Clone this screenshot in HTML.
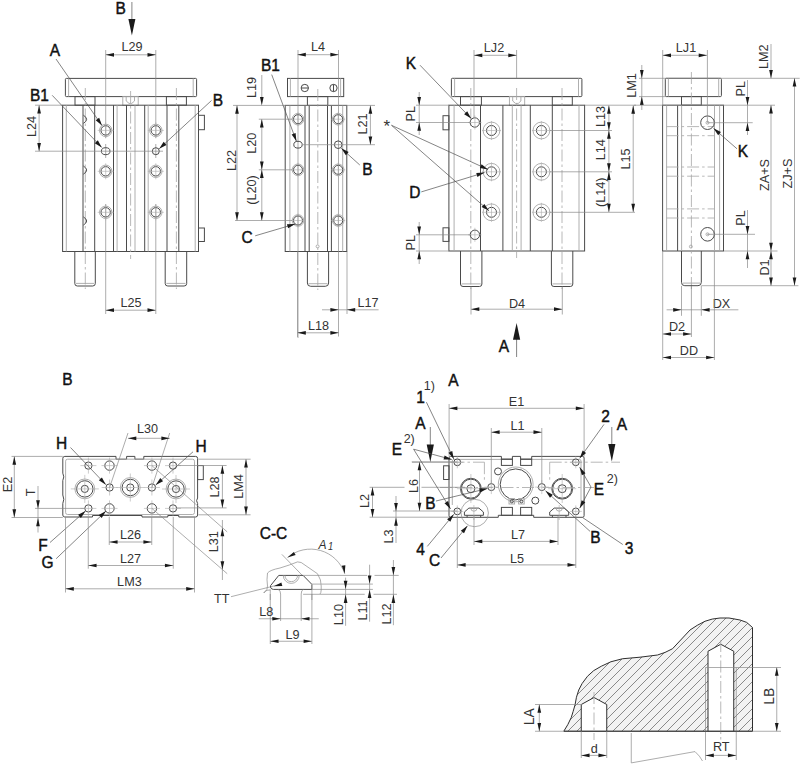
<!DOCTYPE html>
<html><head><meta charset="utf-8"><style>
html,body{margin:0;padding:0;background:#fff;width:800px;height:766px;overflow:hidden}
svg{display:block}
text{font-family:"Liberation Sans",sans-serif;fill:#222}
.lt{fill:#333}
.lb{fill:#111;stroke:#111;stroke-width:0.45}
.d{stroke:#4a4a4a;stroke-width:1;fill:none}
.g{stroke:#a6a6a6;stroke-width:0.9;fill:none}
.t{stroke:#8a8a8a;stroke-width:0.7;fill:none}
.x{stroke:#aaaaaa;stroke-width:0.6;fill:none}
.h{stroke:#a6a6a6;stroke-width:0.8;fill:none;stroke-dasharray:12 3 2.5 3}
.ld{stroke:#505050;stroke-width:0.7;fill:none}
.a{fill:#1a1a1a;stroke:none}
.dh{stroke:#2e2e2e;stroke-width:1;fill:url(#hp)}
.dw{stroke:#2e2e2e;stroke-width:1;fill:#fff}
</style></head><body>
<svg width="800" height="766" viewBox="0 0 800 766">
<defs><pattern id="hp" patternUnits="userSpaceOnUse" width="9" height="9" x="2" y="1"><rect width="9" height="9" fill="#f3f3f3"/><path d="M-1,1 L1,-1 M0,9 L9,0 M8,10 L10,8" stroke="#777" stroke-width="0.85"/></pattern></defs>
<line class="g" x1="76" y1="283.4" x2="94.1" y2="283.4"/>
<line class="g" x1="166.4" y1="283.4" x2="185.5" y2="283.4"/>
<line class="g" x1="308.6" y1="283.7" x2="327.4" y2="283.7"/>
<line class="g" x1="461.7" y1="283.9" x2="480.7" y2="283.9"/>
<line class="g" x1="552.6" y1="283.9" x2="571.6" y2="283.9"/>
<line class="g" x1="682.7" y1="283.1" x2="700.1" y2="283.1"/>
<rect class="d" x="65.4" y="78.4" width="131.2" height="18.2" rx="1"/>
<line class="g" x1="68.6" y1="78.4" x2="68.6" y2="96.6"/>
<line class="g" x1="193.2" y1="78.4" x2="193.2" y2="96.6"/>
<rect class="d" x="75" y="96.6" width="20" height="8.6"/>
<rect class="d" x="166.4" y="96.6" width="20" height="8.6"/>
<rect class="g" x="122.8" y="96.4" width="15.4" height="8.9"/>
<path class="g" d="M126.2,96.8 L126.2,101 L129,103.4 L131.8,103.4 L134.5,101 L134.5,96.8"/>
<rect class="d" x="62.6" y="105.2" width="135.9" height="146.3"/>
<line class="d" x1="83" y1="105.2" x2="83" y2="251.5"/>
<line class="d" x1="94.7" y1="105.2" x2="94.7" y2="251.5"/>
<line class="d" x1="113.5" y1="105.2" x2="113.5" y2="251.5"/>
<line class="d" x1="126.5" y1="105.2" x2="126.5" y2="251.5"/>
<line class="d" x1="144.7" y1="105.2" x2="144.7" y2="251.5"/>
<line class="d" x1="167" y1="105.2" x2="167" y2="251.5"/>
<line class="d" x1="178.8" y1="105.2" x2="178.8" y2="251.5"/>
<line class="g" x1="66.3" y1="105.2" x2="66.3" y2="251.5"/>
<line class="g" x1="117.1" y1="105.2" x2="117.1" y2="251.5"/>
<line class="g" x1="135" y1="105.2" x2="135" y2="251.5"/>
<line class="g" x1="148.2" y1="105.2" x2="148.2" y2="251.5"/>
<line class="g" x1="195.2" y1="105.2" x2="195.2" y2="251.5"/>
<line class="h" x1="130.6" y1="91" x2="130.6" y2="259"/>
<line class="h" x1="85.3" y1="88" x2="85.3" y2="289"/>
<line class="h" x1="176.4" y1="88" x2="176.4" y2="289"/>
<rect class="d" x="198.5" y="115.3" width="5.9" height="14.4"/>
<rect class="d" x="198.5" y="228" width="5.9" height="13.5"/>
<path class="d" d="M83.4,115.2 Q89.9,119.3 83.4,123.4"/>
<path class="d" d="M83.4,166 Q89.9,170.1 83.4,174.2"/>
<path class="d" d="M83.4,216.9 Q89.9,221 83.4,225.1"/>
<path class="d" d="M74.8,251.5 L74.8,283.5 Q74.8,286 77.3,286 L92.7,286 Q95.3,286 95.3,283.5 L95.3,251.5"/>
<path class="d" d="M165.2,251.5 L165.2,283.5 Q165.2,286 167.8,286 L184.1,286 Q186.7,286 186.7,283.5 L186.7,251.5"/>
<line class="t" x1="105.7" y1="50" x2="105.7" y2="138"/>
<line class="t" x1="105.7" y1="144" x2="105.7" y2="158"/>
<line class="t" x1="105.7" y1="204" x2="105.7" y2="314"/>
<line class="t" x1="155.8" y1="50" x2="155.8" y2="138"/>
<line class="t" x1="155.8" y1="144" x2="155.8" y2="158"/>
<line class="t" x1="155.8" y1="204" x2="155.8" y2="314"/>
<circle class="g" cx="105.7" cy="130.4" r="6.2"/>
<circle class="d" cx="105.7" cy="130.4" r="4.7"/>
<line class="x" x1="97.7" y1="130.4" x2="113.7" y2="130.4"/>
<line class="x" x1="105.7" y1="122.4" x2="105.7" y2="138.4"/>
<circle class="g" cx="105.7" cy="171.3" r="6.2"/>
<circle class="d" cx="105.7" cy="171.3" r="4.7"/>
<line class="x" x1="97.7" y1="171.3" x2="113.7" y2="171.3"/>
<line class="x" x1="105.7" y1="163.3" x2="105.7" y2="179.3"/>
<circle class="g" cx="105.7" cy="212.3" r="6.2"/>
<circle class="d" cx="105.7" cy="212.3" r="4.7"/>
<line class="x" x1="97.7" y1="212.3" x2="113.7" y2="212.3"/>
<line class="x" x1="105.7" y1="204.3" x2="105.7" y2="220.3"/>
<circle class="g" cx="155.8" cy="130.4" r="6.2"/>
<circle class="d" cx="155.8" cy="130.4" r="4.7"/>
<line class="x" x1="147.8" y1="130.4" x2="163.8" y2="130.4"/>
<line class="x" x1="155.8" y1="122.4" x2="155.8" y2="138.4"/>
<circle class="g" cx="155.8" cy="171.3" r="6.2"/>
<circle class="d" cx="155.8" cy="171.3" r="4.7"/>
<line class="x" x1="147.8" y1="171.3" x2="163.8" y2="171.3"/>
<line class="x" x1="155.8" y1="163.3" x2="155.8" y2="179.3"/>
<circle class="g" cx="155.8" cy="212.3" r="6.2"/>
<circle class="d" cx="155.8" cy="212.3" r="4.7"/>
<line class="x" x1="147.8" y1="212.3" x2="163.8" y2="212.3"/>
<line class="x" x1="155.8" y1="204.3" x2="155.8" y2="220.3"/>
<ellipse class="d" cx="105.7" cy="151.2" rx="4.3" ry="3.5"/>
<circle class="d" cx="155.8" cy="151.2" r="3.5"/>
<line class="t" x1="105.7" y1="54.8" x2="155.8" y2="54.8"/>
<polygon class="a" points="105.7,54.8 114,52.95 114,56.65"/>
<polygon class="a" points="155.8,54.8 147.5,56.65 147.5,52.95"/>
<text class="lt" transform="translate(132 51) scale(0.93 1)" text-anchor="middle" style="font-size:13.6px;">L29</text>
<line class="t" x1="105.7" y1="310.2" x2="155.8" y2="310.2"/>
<polygon class="a" points="105.7,310.2 114,308.35 114,312.05"/>
<polygon class="a" points="155.8,310.2 147.5,312.05 147.5,308.35"/>
<text class="lt" transform="translate(131 307) scale(0.93 1)" text-anchor="middle" style="font-size:13.6px;">L25</text>
<line class="t" x1="35" y1="105.2" x2="62.6" y2="105.2"/>
<line class="t" x1="35" y1="151.2" x2="163" y2="151.2"/>
<line class="t" x1="39.1" y1="105.2" x2="39.1" y2="151.2"/>
<polygon class="a" points="39.1,105.2 40.95,113.5 37.25,113.5"/>
<polygon class="a" points="39.1,151.2 37.25,142.9 40.95,142.9"/>
<text class="lt" transform="translate(35.5 126.5) rotate(-90) scale(0.93 1)" text-anchor="middle" style="font-size:13.6px;">L24</text>
<line class="ld" x1="131.9" y1="2" x2="131.9" y2="20"/>
<polygon class="a" points="131.9,35.5 128.4,18.9 135.4,18.9"/>
<text class="lb" transform="translate(120.7 13.9) scale(0.9 1)" text-anchor="middle" style="font-size:17.2px;">B</text>
<text class="lb" transform="translate(55 56) scale(0.9 1)" text-anchor="middle" style="font-size:17.2px;">A</text>
<line class="ld" x1="56" y1="59" x2="102" y2="125.6"/>
<polygon class="a" points="102,125.6 95.73,120.21 99.18,117.82"/>
<text class="lb" transform="translate(39.5 100.5) scale(0.9 1)" text-anchor="middle" style="font-size:17.2px;">B1</text>
<line class="ld" x1="52.2" y1="95.3" x2="101.8" y2="147.5"/>
<polygon class="a" points="101.8,147.5 94.77,143.15 97.81,140.25"/>
<text class="lb" transform="translate(218 105.7) scale(0.9 1)" text-anchor="middle" style="font-size:17.2px;">B</text>
<line class="ld" x1="211.5" y1="100.5" x2="159.2" y2="148.8"/>
<polygon class="a" points="159.2,148.8 163.65,141.83 166.5,144.92"/>
<rect class="d" x="287.5" y="78.4" width="56.2" height="18.2"/>
<line class="g" x1="290.4" y1="78.4" x2="290.4" y2="96.6"/>
<line class="g" x1="340.6" y1="78.4" x2="340.6" y2="96.6"/>
<circle class="d" cx="304.8" cy="88" r="3.65"/>
<line class="d" x1="301.2" y1="88" x2="308.4" y2="88"/>
<circle class="d" cx="333.5" cy="88" r="3.65"/>
<line class="d" x1="333.5" y1="84.4" x2="333.5" y2="91.6"/>
<rect class="d" x="307.4" y="96.6" width="20.4" height="8.8"/>
<rect class="d" x="285.2" y="105.4" width="61.6" height="146.1"/>
<line class="d" x1="305" y1="105.4" x2="305" y2="251.5"/>
<line class="d" x1="309.2" y1="105.4" x2="309.2" y2="251.5"/>
<line class="d" x1="327.5" y1="105.4" x2="327.5" y2="251.5"/>
<line class="d" x1="331.4" y1="105.4" x2="331.4" y2="251.5"/>
<line class="g" x1="289.9" y1="105.4" x2="289.9" y2="251.5"/>
<line class="g" x1="342.7" y1="105.4" x2="342.7" y2="251.5"/>
<line class="h" x1="317.8" y1="89" x2="317.8" y2="290"/>
<path class="d" d="M307.4,251.5 L307.4,283 Q307.4,286.3 310.7,286.3 L325.3,286.3 Q328.6,286.3 328.6,283 L328.6,251.5"/>
<circle class="g" cx="317.6" cy="246.4" r="1.5"/>
<line class="t" x1="298" y1="50" x2="298" y2="338"/>
<line class="t" x1="338.5" y1="50" x2="338.5" y2="336.5"/>
<line class="t" x1="347" y1="251.5" x2="347" y2="314"/>
<circle class="g" cx="298" cy="119.2" r="5.8"/>
<circle class="d" cx="298" cy="119.2" r="4.5"/>
<line class="x" x1="291" y1="119.2" x2="305" y2="119.2"/>
<line class="x" x1="298" y1="112.2" x2="298" y2="126.2"/>
<circle class="g" cx="298" cy="169.8" r="5.8"/>
<circle class="d" cx="298" cy="169.8" r="4.5"/>
<line class="x" x1="291" y1="169.8" x2="305" y2="169.8"/>
<line class="x" x1="298" y1="162.8" x2="298" y2="176.8"/>
<circle class="g" cx="298" cy="220.5" r="5.8"/>
<circle class="d" cx="298" cy="220.5" r="4.5"/>
<line class="x" x1="291" y1="220.5" x2="305" y2="220.5"/>
<line class="x" x1="298" y1="213.5" x2="298" y2="227.5"/>
<circle class="g" cx="338.2" cy="119.2" r="5.8"/>
<circle class="d" cx="338.2" cy="119.2" r="4.5"/>
<line class="x" x1="331.2" y1="119.2" x2="345.2" y2="119.2"/>
<line class="x" x1="338.2" y1="112.2" x2="338.2" y2="126.2"/>
<circle class="g" cx="338.2" cy="169.8" r="5.8"/>
<circle class="d" cx="338.2" cy="169.8" r="4.5"/>
<line class="x" x1="331.2" y1="169.8" x2="345.2" y2="169.8"/>
<line class="x" x1="338.2" y1="162.8" x2="338.2" y2="176.8"/>
<circle class="g" cx="338.2" cy="220.5" r="5.8"/>
<circle class="d" cx="338.2" cy="220.5" r="4.5"/>
<line class="x" x1="331.2" y1="220.5" x2="345.2" y2="220.5"/>
<line class="x" x1="338.2" y1="213.5" x2="338.2" y2="227.5"/>
<ellipse class="d" cx="298" cy="144.7" rx="4.2" ry="3.4"/>
<circle class="d" cx="338.2" cy="144.7" r="3.8"/>
<line class="t" x1="233" y1="105.4" x2="375" y2="105.4"/>
<line class="t" x1="258.8" y1="119.2" x2="292" y2="119.2"/>
<line class="t" x1="258.8" y1="169.8" x2="292" y2="169.8"/>
<line class="t" x1="235" y1="220.5" x2="292" y2="220.5"/>
<line class="t" x1="303" y1="144.7" x2="375" y2="144.7"/>
<line class="t" x1="297.5" y1="54.7" x2="338.7" y2="54.7"/>
<polygon class="a" points="297.5,54.7 305.8,52.85 305.8,56.55"/>
<polygon class="a" points="338.7,54.7 330.4,56.55 330.4,52.85"/>
<text class="lt" transform="translate(318 51) scale(0.93 1)" text-anchor="middle" style="font-size:13.6px;">L4</text>
<text class="lt" transform="translate(256.3 87.4) rotate(-90) scale(0.93 1)" text-anchor="middle" style="font-size:13.6px;">L19</text>
<line class="t" x1="261.8" y1="75" x2="261.8" y2="98"/>
<polygon class="a" points="261.8,105.4 259.95,97.1 263.65,97.1"/>
<line class="t" x1="261.8" y1="119.2" x2="261.8" y2="169.8"/>
<polygon class="a" points="261.8,119.2 263.65,127.5 259.95,127.5"/>
<polygon class="a" points="261.8,169.8 259.95,161.5 263.65,161.5"/>
<text class="lt" transform="translate(256.3 143.3) rotate(-90) scale(0.93 1)" text-anchor="middle" style="font-size:13.6px;">L20</text>
<line class="t" x1="261.8" y1="169.8" x2="261.8" y2="220.5"/>
<polygon class="a" points="261.8,169.8 263.65,178.1 259.95,178.1"/>
<polygon class="a" points="261.8,220.5 259.95,212.2 263.65,212.2"/>
<text class="lt" transform="translate(256.3 190) rotate(-90) scale(0.93 1)" text-anchor="middle" style="font-size:13.6px;">(L20)</text>
<line class="t" x1="237" y1="105.4" x2="237" y2="220.5"/>
<polygon class="a" points="237,105.4 238.85,113.7 235.15,113.7"/>
<polygon class="a" points="237,220.5 235.15,212.2 238.85,212.2"/>
<text class="lt" transform="translate(235.6 160.5) rotate(-90) scale(0.93 1)" text-anchor="middle" style="font-size:13.6px;">L22</text>
<line class="t" x1="370.4" y1="105.4" x2="370.4" y2="144.7"/>
<polygon class="a" points="370.4,105.4 372.25,113.7 368.55,113.7"/>
<polygon class="a" points="370.4,144.7 368.55,136.4 372.25,136.4"/>
<text class="lt" transform="translate(366.5 124) rotate(-90) scale(0.93 1)" text-anchor="middle" style="font-size:13.6px;">L21</text>
<text class="lb" transform="translate(270.5 71) scale(0.9 1)" text-anchor="middle" style="font-size:17.2px;">B1</text>
<line class="ld" x1="271.7" y1="74.6" x2="296.4" y2="141.2"/>
<polygon class="a" points="296.4,141.2 291.65,134.43 295.59,132.97"/>
<text class="lb" transform="translate(367.3 174.5) scale(0.9 1)" text-anchor="middle" style="font-size:17.2px;">B</text>
<line class="ld" x1="359.8" y1="165" x2="341.3" y2="148.3"/>
<polygon class="a" points="341.3,148.3 348.65,152.1 345.83,155.22"/>
<text class="lb" transform="translate(247 243) scale(0.9 1)" text-anchor="middle" style="font-size:17.2px;">C</text>
<line class="ld" x1="255.2" y1="235.8" x2="295.2" y2="224"/>
<polygon class="a" points="295.2,224 288.12,228.28 286.93,224.25"/>
<line class="t" x1="322" y1="309.8" x2="378.6" y2="309.8"/>
<polygon class="a" points="338.7,309.8 330.4,311.65 330.4,307.95"/>
<polygon class="a" points="346.9,309.8 355.2,307.95 355.2,311.65"/>
<text class="lt" transform="translate(368 306.5) scale(0.93 1)" text-anchor="middle" style="font-size:13.6px;">L17</text>
<line class="t" x1="297.5" y1="332.8" x2="338.7" y2="332.8"/>
<polygon class="a" points="297.5,332.8 305.8,330.95 305.8,334.65"/>
<polygon class="a" points="338.7,332.8 330.4,334.65 330.4,330.95"/>
<text class="lt" transform="translate(318.5 330) scale(0.93 1)" text-anchor="middle" style="font-size:13.6px;">L18</text>
<line class="t" x1="297.5" y1="251.5" x2="297.5" y2="337"/>
<rect class="d" x="451.4" y="78.3" width="130.5" height="18.3" rx="1"/>
<line class="g" x1="454.6" y1="78.3" x2="454.6" y2="96.6"/>
<line class="g" x1="578.5" y1="78.3" x2="578.5" y2="96.6"/>
<rect class="d" x="460.5" y="96.6" width="20.9" height="8.6"/>
<rect class="d" x="552.3" y="96.6" width="20" height="8.6"/>
<rect class="g" x="509.4" y="96.4" width="15.3" height="8.9"/>
<path class="g" d="M512.7,96.8 L512.7,101 L515.5,103.4 L518.3,103.4 L520.9,101 L520.9,96.8"/>
<rect class="d" x="448.9" y="105.2" width="135.7" height="145.8"/>
<line class="d" x1="480.5" y1="105.2" x2="480.5" y2="251"/>
<line class="d" x1="502.9" y1="105.2" x2="502.9" y2="251"/>
<line class="d" x1="530.3" y1="105.2" x2="530.3" y2="251"/>
<line class="d" x1="552.3" y1="105.2" x2="552.3" y2="251"/>
<line class="g" x1="454.1" y1="105.2" x2="454.1" y2="251"/>
<line class="g" x1="512.3" y1="105.2" x2="512.3" y2="251"/>
<line class="g" x1="521.1" y1="105.2" x2="521.1" y2="251"/>
<line class="g" x1="579" y1="105.2" x2="579" y2="251"/>
<line class="h" x1="516.6" y1="88" x2="516.6" y2="258"/>
<line class="h" x1="470.8" y1="88" x2="470.8" y2="289"/>
<line class="h" x1="562" y1="88" x2="562" y2="289"/>
<rect class="d" x="443" y="115.7" width="5.9" height="14.1"/>
<rect class="d" x="443" y="227.8" width="5.9" height="13.6"/>
<path class="d" d="M460.5,251 L460.5,284 Q460.5,286.5 463,286.5 L479.4,286.5 Q481.9,286.5 481.9,284 L481.9,251"/>
<path class="d" d="M551.4,251 L551.4,284 Q551.4,286.5 553.9,286.5 L570.3,286.5 Q572.8,286.5 572.8,284 L572.8,251"/>
<circle class="d" cx="474.8" cy="122.5" r="4.7"/>
<circle class="d" cx="474.9" cy="234.8" r="4.7"/>
<line class="x" x1="468" y1="122.5" x2="481.5" y2="122.5"/>
<line class="x" x1="474.9" y1="115.5" x2="474.9" y2="129.5"/>
<line class="x" x1="468" y1="234.8" x2="481.5" y2="234.8"/>
<line class="x" x1="474.9" y1="227.8" x2="474.9" y2="241.8"/>
<line class="t" x1="474" y1="50" x2="474" y2="118"/>
<line class="t" x1="516.6" y1="50" x2="516.6" y2="78"/>
<circle class="g" cx="491.5" cy="130.5" r="8.4"/>
<circle class="d" cx="491.5" cy="130.5" r="5"/>
<line class="x" x1="482" y1="130.5" x2="501" y2="130.5"/>
<line class="x" x1="491.5" y1="121" x2="491.5" y2="140"/>
<circle class="g" cx="491.5" cy="171.8" r="8.4"/>
<circle class="d" cx="491.5" cy="171.8" r="5"/>
<line class="x" x1="482" y1="171.8" x2="501" y2="171.8"/>
<line class="x" x1="491.5" y1="162.3" x2="491.5" y2="181.3"/>
<circle class="g" cx="491.5" cy="212.3" r="8.4"/>
<circle class="d" cx="491.5" cy="212.3" r="5"/>
<line class="x" x1="482" y1="212.3" x2="501" y2="212.3"/>
<line class="x" x1="491.5" y1="202.8" x2="491.5" y2="221.8"/>
<circle class="g" cx="541.4" cy="130.5" r="8.4"/>
<circle class="d" cx="541.4" cy="130.5" r="5"/>
<line class="x" x1="531.9" y1="130.5" x2="550.9" y2="130.5"/>
<line class="x" x1="541.4" y1="121" x2="541.4" y2="140"/>
<circle class="g" cx="541.4" cy="171.8" r="8.4"/>
<circle class="d" cx="541.4" cy="171.8" r="5"/>
<line class="x" x1="531.9" y1="171.8" x2="550.9" y2="171.8"/>
<line class="x" x1="541.4" y1="162.3" x2="541.4" y2="181.3"/>
<circle class="g" cx="541.4" cy="212.3" r="8.4"/>
<circle class="d" cx="541.4" cy="212.3" r="5"/>
<line class="x" x1="531.9" y1="212.3" x2="550.9" y2="212.3"/>
<line class="x" x1="541.4" y1="202.8" x2="541.4" y2="221.8"/>
<line class="t" x1="550" y1="130.5" x2="612" y2="130.5"/>
<line class="t" x1="550" y1="171.8" x2="612" y2="171.8"/>
<line class="t" x1="550" y1="212.3" x2="635" y2="212.3"/>
<line class="t" x1="584.6" y1="105.2" x2="636" y2="105.2"/>
<line class="t" x1="416" y1="105.2" x2="448.9" y2="105.2"/>
<line class="t" x1="416" y1="122.5" x2="470" y2="122.5"/>
<line class="t" x1="419.2" y1="92" x2="419.2" y2="135"/>
<polygon class="a" points="419.2,105.2 417.35,96.9 421.05,96.9"/>
<polygon class="a" points="419.2,122.5 421.05,130.8 417.35,130.8"/>
<text class="lt" transform="translate(414.8 113.8) rotate(-90) scale(0.93 1)" text-anchor="middle" style="font-size:13.6px;">PL</text>
<line class="t" x1="416" y1="234.8" x2="470" y2="234.8"/>
<line class="t" x1="416" y1="251" x2="448.9" y2="251"/>
<line class="t" x1="419.2" y1="222" x2="419.2" y2="264"/>
<polygon class="a" points="419.2,234.8 417.35,226.5 421.05,226.5"/>
<polygon class="a" points="419.2,251 421.05,259.3 417.35,259.3"/>
<text class="lt" transform="translate(414.8 242.8) rotate(-90) scale(0.93 1)" text-anchor="middle" style="font-size:13.6px;">PL</text>
<line class="t" x1="474" y1="55.3" x2="516.6" y2="55.3"/>
<polygon class="a" points="474,55.3 482.3,53.45 482.3,57.15"/>
<polygon class="a" points="516.6,55.3 508.3,57.15 508.3,53.45"/>
<text class="lt" transform="translate(494 52) scale(0.93 1)" text-anchor="middle" style="font-size:13.6px;">LJ2</text>
<line class="t" x1="471" y1="309.2" x2="562.3" y2="309.2"/>
<polygon class="a" points="471,309.2 479.3,307.35 479.3,311.05"/>
<polygon class="a" points="562.3,309.2 554,311.05 554,307.35"/>
<text class="lt" transform="translate(517 308) scale(0.93 1)" text-anchor="middle" style="font-size:13.6px;">D4</text>
<line class="t" x1="471" y1="286.5" x2="471" y2="314.5"/>
<line class="t" x1="562.3" y1="286.5" x2="562.3" y2="314.5"/>
<line class="ld" x1="516.6" y1="338" x2="516.6" y2="357"/>
<polygon class="a" points="516.6,322.9 520.2,339.7 513,339.7"/>
<text class="lb" transform="translate(504 352.3) scale(0.9 1)" text-anchor="middle" style="font-size:17.2px;">A</text>
<text class="lb" transform="translate(410.8 69) scale(0.9 1)" text-anchor="middle" style="font-size:17.2px;">K</text>
<line class="ld" x1="420" y1="65.2" x2="471.2" y2="118.6"/>
<polygon class="a" points="471.2,118.6 464.15,114.28 467.18,111.37"/>
<text class="lt" transform="translate(386.8 131.6) scale(1 1)" text-anchor="middle" style="font-size:17px;">*</text>
<line class="ld" x1="391.5" y1="125.3" x2="488" y2="169.5"/>
<polygon class="a" points="488,169.5 479.85,168.08 481.6,164.26"/>
<line class="ld" x1="391.5" y1="125.3" x2="489" y2="210.8"/>
<polygon class="a" points="489,210.8 481.6,207.1 484.37,203.95"/>
<text class="lb" transform="translate(414.8 198.4) scale(0.9 1)" text-anchor="middle" style="font-size:17.2px;">D</text>
<line class="ld" x1="421.3" y1="191.9" x2="484.5" y2="172.6"/>
<polygon class="a" points="484.5,172.6 477.46,176.94 476.24,172.93"/>
<line class="t" x1="608.9" y1="105.5" x2="608.9" y2="130.5"/>
<polygon class="a" points="608.9,105.5 610.75,113.8 607.05,113.8"/>
<polygon class="a" points="608.9,130.5 607.05,122.2 610.75,122.2"/>
<line class="t" x1="608.9" y1="130.5" x2="608.9" y2="171.6"/>
<polygon class="a" points="608.9,130.5 610.75,138.8 607.05,138.8"/>
<polygon class="a" points="608.9,171.6 607.05,163.3 610.75,163.3"/>
<line class="t" x1="608.9" y1="171.6" x2="608.9" y2="212"/>
<polygon class="a" points="608.9,171.6 610.75,179.9 607.05,179.9"/>
<polygon class="a" points="608.9,212 607.05,203.7 610.75,203.7"/>
<text class="lt" transform="translate(604.8 116.5) rotate(-90) scale(0.93 1)" text-anchor="middle" style="font-size:13.6px;">L13</text>
<text class="lt" transform="translate(604.8 149.8) rotate(-90) scale(0.93 1)" text-anchor="middle" style="font-size:13.6px;">L14</text>
<text class="lt" transform="translate(604.8 192.3) rotate(-90) scale(0.93 1)" text-anchor="middle" style="font-size:13.6px;">(L14)</text>
<line class="t" x1="633.2" y1="105.5" x2="633.2" y2="212"/>
<polygon class="a" points="633.2,105.5 635.05,113.8 631.35,113.8"/>
<polygon class="a" points="633.2,212 631.35,203.7 635.05,203.7"/>
<text class="lt" transform="translate(629.5 159) rotate(-90) scale(0.93 1)" text-anchor="middle" style="font-size:13.6px;">L15</text>
<rect class="d" x="665.3" y="78.3" width="56.1" height="18.3" rx="1"/>
<line class="g" x1="668.4" y1="78.3" x2="668.4" y2="96.6"/>
<line class="g" x1="718.7" y1="78.3" x2="718.7" y2="96.6"/>
<rect class="d" x="681.5" y="96.6" width="19.8" height="8.6"/>
<rect class="d" x="662.6" y="105.2" width="60.9" height="145.8"/>
<line class="d" x1="677.6" y1="105.2" x2="677.6" y2="251"/>
<line class="g" x1="681.6" y1="105.2" x2="681.6" y2="251"/>
<line class="g" x1="714.5" y1="105.2" x2="714.5" y2="251"/>
<line class="g" x1="666.6" y1="105.2" x2="666.6" y2="251"/>
<line class="g" x1="719.6" y1="105.2" x2="719.6" y2="251"/>
<line class="h" x1="691.4" y1="72" x2="691.4" y2="289"/>
<line class="h" x1="666.6" y1="126.6" x2="714.4" y2="126.6"/>
<line class="h" x1="666.6" y1="135.7" x2="714.4" y2="135.7"/>
<line class="h" x1="666.6" y1="167" x2="714.4" y2="167"/>
<line class="h" x1="666.6" y1="176.2" x2="714.4" y2="176.2"/>
<line class="h" x1="666.6" y1="208.9" x2="714.4" y2="208.9"/>
<line class="h" x1="666.6" y1="218" x2="714.4" y2="218"/>
<circle class="d" cx="707.5" cy="122.7" r="6.8"/>
<circle class="g" cx="707.5" cy="122.7" r="1.5"/>
<circle class="d" cx="707.5" cy="234.3" r="6.8"/>
<circle class="g" cx="707.5" cy="234.3" r="1.5"/>
<circle class="g" cx="690.9" cy="246.6" r="1.5"/>
<path class="d" d="M681.5,251 L681.5,282.4 Q681.5,285.7 684.8,285.7 L698,285.7 Q701.3,285.7 701.3,282.4 L701.3,251"/>
<line class="t" x1="662.7" y1="55.3" x2="707" y2="55.3"/>
<polygon class="a" points="662.7,55.3 671,53.45 671,57.15"/>
<polygon class="a" points="707,55.3 698.7,57.15 698.7,53.45"/>
<text class="lt" transform="translate(686 52) scale(0.93 1)" text-anchor="middle" style="font-size:13.6px;">LJ1</text>
<line class="t" x1="662.7" y1="50" x2="662.7" y2="105.2"/>
<line class="t" x1="707.4" y1="50" x2="707.4" y2="122"/>
<line class="t" x1="641.8" y1="65" x2="641.8" y2="110"/>
<polygon class="a" points="641.8,78.3 639.95,70 643.65,70"/>
<polygon class="a" points="641.8,96.6 643.65,104.9 639.95,104.9"/>
<text class="lt" transform="translate(635.6 85.5) rotate(-90) scale(0.93 1)" text-anchor="middle" style="font-size:13.6px;">LM1</text>
<line class="t" x1="639" y1="78.3" x2="799.7" y2="78.3"/>
<line class="t" x1="639" y1="96.6" x2="665.3" y2="96.6"/>
<line class="t" x1="634" y1="105.2" x2="775" y2="105.2"/>
<line class="t" x1="771" y1="44" x2="771" y2="78.3"/>
<polygon class="a" points="771,78.3 769.15,70 772.85,70"/>
<text class="lt" transform="translate(768.3 56.7) rotate(-90) scale(0.93 1)" text-anchor="middle" style="font-size:13.6px;">LM2</text>
<line class="t" x1="747.5" y1="80" x2="747.5" y2="135"/>
<polygon class="a" points="747.5,105.2 745.65,96.9 749.35,96.9"/>
<polygon class="a" points="747.5,122.7 749.35,131 745.65,131"/>
<text class="lt" transform="translate(745 88.8) rotate(-90) scale(0.93 1)" text-anchor="middle" style="font-size:13.6px;">PL</text>
<line class="t" x1="707" y1="122.7" x2="752.7" y2="122.7"/>
<line class="t" x1="771" y1="105.2" x2="771" y2="251"/>
<polygon class="a" points="771,105.2 772.85,113.5 769.15,113.5"/>
<polygon class="a" points="771,251 769.15,242.7 772.85,242.7"/>
<text class="lt" transform="translate(768.5 175) rotate(-90) scale(0.93 1)" text-anchor="middle" style="font-size:13.6px;">ZA+S</text>
<line class="t" x1="794.5" y1="78.3" x2="794.5" y2="285.7"/>
<polygon class="a" points="794.5,78.3 796.35,86.6 792.65,86.6"/>
<polygon class="a" points="794.5,285.7 792.65,277.4 796.35,277.4"/>
<text class="lt" transform="translate(791.8 173.5) rotate(-90) scale(0.93 1)" text-anchor="middle" style="font-size:13.6px;">ZJ+S</text>
<line class="t" x1="747.5" y1="210" x2="747.5" y2="268"/>
<polygon class="a" points="747.5,234.3 745.65,226 749.35,226"/>
<polygon class="a" points="747.5,251 749.35,259.3 745.65,259.3"/>
<text class="lt" transform="translate(745 218) rotate(-90) scale(0.93 1)" text-anchor="middle" style="font-size:13.6px;">PL</text>
<line class="t" x1="707" y1="234.3" x2="755" y2="234.3"/>
<line class="t" x1="724" y1="251" x2="777.5" y2="251"/>
<line class="t" x1="701.3" y1="285.7" x2="798.4" y2="285.7"/>
<line class="t" x1="771" y1="251" x2="771" y2="285.7"/>
<polygon class="a" points="771,251 772.85,259.3 769.15,259.3"/>
<polygon class="a" points="771,285.7 769.15,277.4 772.85,277.4"/>
<text class="lt" transform="translate(768.8 267.5) rotate(-90) scale(0.93 1)" text-anchor="middle" style="font-size:13.6px;">D1</text>
<text class="lb" transform="translate(743 156.6) scale(0.9 1)" text-anchor="middle" style="font-size:17.2px;">K</text>
<line class="ld" x1="737" y1="148.8" x2="713.5" y2="128.3"/>
<polygon class="a" points="713.5,128.3 720.91,131.98 718.15,135.14"/>
<line class="t" x1="666.6" y1="309.8" x2="738.4" y2="309.8"/>
<polygon class="a" points="681.5,309.8 673.2,311.65 673.2,307.95"/>
<polygon class="a" points="701.3,309.8 709.6,307.95 709.6,311.65"/>
<text class="lt" transform="translate(721.4 308) scale(0.93 1)" text-anchor="middle" style="font-size:13.6px;">DX</text>
<line class="t" x1="681.5" y1="286" x2="681.5" y2="315.8"/>
<line class="t" x1="701.3" y1="286" x2="701.3" y2="315.8"/>
<line class="t" x1="662.7" y1="334" x2="691.4" y2="334"/>
<polygon class="a" points="662.7,334 671,332.15 671,335.85"/>
<polygon class="a" points="691.4,334 683.1,335.85 683.1,332.15"/>
<text class="lt" transform="translate(677 331.4) scale(0.93 1)" text-anchor="middle" style="font-size:13.6px;">D2</text>
<line class="t" x1="662.7" y1="357.5" x2="714.4" y2="357.5"/>
<polygon class="a" points="662.7,357.5 671,355.65 671,359.35"/>
<polygon class="a" points="714.4,357.5 706.1,359.35 706.1,355.65"/>
<text class="lt" transform="translate(689 355) scale(0.93 1)" text-anchor="middle" style="font-size:13.6px;">DD</text>
<line class="t" x1="662.7" y1="251" x2="662.7" y2="360"/>
<line class="t" x1="714.4" y1="251" x2="714.4" y2="360"/>
<line class="t" x1="691.4" y1="286" x2="691.4" y2="337"/>
<text class="lb" transform="translate(67.3 385.3) scale(0.9 1)" text-anchor="middle" style="font-size:17.2px;">B</text>
<path class="d" d="M62.8,458.3 Q62.8,456.4 64.8,456.4 L116,456.4 L116,459.2 L126.6,459.2 L126.6,456.4 L134.9,456.4 L134.9,459.2 L143.8,459.2 L143.8,456.4 L195.6,456.4 Q197.6,456.4 197.6,458.4 L197.6,498 Q195.6,500.7 197.6,503.5 L197.6,515 Q197.6,517 195.6,517 L178.8,517 L178.8,515.5 L167.8,515.5 L167.8,517 L142,517 L142,515.5 L92.5,515.5 L92.5,517 L64.8,517 Q62.8,517 62.8,515 L62.8,503.5 Q64.8,499.3 62.8,495 L62.8,480.5 Q64.8,476.9 62.8,473.2 Z"/>
<rect class="g" x="65.6" y="459.2" width="128.9" height="55.3" rx="2"/>
<rect class="d" x="197.6" y="465.6" width="5.7" height="14"/>
<circle class="d" cx="88.4" cy="465.6" r="3.65"/>
<line class="x" x1="80.4" y1="465.6" x2="96.4" y2="465.6"/>
<line class="x" x1="88.4" y1="457.6" x2="88.4" y2="473.6"/>
<circle class="d" cx="88.4" cy="508.4" r="3.65"/>
<line class="x" x1="80.4" y1="508.4" x2="96.4" y2="508.4"/>
<line class="x" x1="88.4" y1="500.4" x2="88.4" y2="516.4"/>
<circle class="d" cx="109.5" cy="465.6" r="4.7"/>
<line class="x" x1="101.5" y1="465.6" x2="117.5" y2="465.6"/>
<line class="x" x1="109.5" y1="457.6" x2="109.5" y2="473.6"/>
<circle class="d" cx="109.5" cy="508.4" r="4.7"/>
<line class="x" x1="101.5" y1="508.4" x2="117.5" y2="508.4"/>
<line class="x" x1="109.5" y1="500.4" x2="109.5" y2="516.4"/>
<circle class="d" cx="151.9" cy="465.6" r="4.7"/>
<line class="x" x1="143.9" y1="465.6" x2="159.9" y2="465.6"/>
<line class="x" x1="151.9" y1="457.6" x2="151.9" y2="473.6"/>
<circle class="d" cx="151.9" cy="508.4" r="4.7"/>
<line class="x" x1="143.9" y1="508.4" x2="159.9" y2="508.4"/>
<line class="x" x1="151.9" y1="500.4" x2="151.9" y2="516.4"/>
<circle class="d" cx="173" cy="465.6" r="3.65"/>
<line class="x" x1="165" y1="465.6" x2="181" y2="465.6"/>
<line class="x" x1="173" y1="457.6" x2="173" y2="473.6"/>
<circle class="d" cx="173" cy="508.4" r="3.65"/>
<line class="x" x1="165" y1="508.4" x2="181" y2="508.4"/>
<line class="x" x1="173" y1="500.4" x2="173" y2="516.4"/>
<circle class="g" cx="84.8" cy="488.9" r="9.9"/>
<circle class="d" cx="84.8" cy="488.9" r="8.2"/>
<circle class="d" cx="84.8" cy="488.9" r="3.6"/>
<line class="x" x1="70.8" y1="488.9" x2="98.8" y2="488.9"/>
<line class="x" x1="84.8" y1="474.9" x2="84.8" y2="502.9"/>
<circle class="g" cx="130.3" cy="487.5" r="9.9"/>
<circle class="d" cx="130.3" cy="487.5" r="8.2"/>
<circle class="d" cx="130.3" cy="487.5" r="3.6"/>
<line class="x" x1="116.3" y1="487.5" x2="144.3" y2="487.5"/>
<line class="x" x1="130.3" y1="473.5" x2="130.3" y2="501.5"/>
<circle class="g" cx="176" cy="489" r="9.9"/>
<circle class="d" cx="176" cy="489" r="8.2"/>
<circle class="d" cx="176" cy="489" r="3.6"/>
<line class="x" x1="162" y1="489" x2="190" y2="489"/>
<line class="x" x1="176" y1="475" x2="176" y2="503"/>
<circle class="d" cx="109.6" cy="487.5" r="3.65"/>
<line class="x" x1="101.6" y1="487.5" x2="117.6" y2="487.5"/>
<line class="x" x1="109.6" y1="479.5" x2="109.6" y2="495.5"/>
<circle class="d" cx="151.9" cy="487.5" r="3.65"/>
<line class="x" x1="143.9" y1="487.5" x2="159.9" y2="487.5"/>
<line class="x" x1="151.9" y1="479.5" x2="151.9" y2="495.5"/>
<line class="t" x1="11.5" y1="456.4" x2="62.8" y2="456.4"/>
<line class="t" x1="11.5" y1="517.5" x2="62.8" y2="517.5"/>
<line class="t" x1="14.3" y1="456.4" x2="14.3" y2="517.5"/>
<polygon class="a" points="14.3,456.4 16.15,464.7 12.45,464.7"/>
<polygon class="a" points="14.3,517.5 12.45,509.2 16.15,509.2"/>
<text class="lt" transform="translate(11.7 484.5) rotate(-90) scale(0.93 1)" text-anchor="middle" style="font-size:13.6px;">E2</text>
<line class="t" x1="35" y1="508.4" x2="85" y2="508.4"/>
<line class="t" x1="38" y1="486" x2="38" y2="532.5"/>
<polygon class="a" points="38,508.6 36.15,500.3 39.85,500.3"/>
<polygon class="a" points="38,518 39.85,526.3 36.15,526.3"/>
<text class="lt" transform="translate(35 492.5) rotate(-90) scale(0.93 1)" text-anchor="middle" style="font-size:13.6px;">T</text>
<text class="lb" transform="translate(61.7 448.8) scale(0.9 1)" text-anchor="middle" style="font-size:17.2px;">H</text>
<line class="ld" x1="70.5" y1="447.5" x2="105.9" y2="484.7"/>
<polygon class="a" points="105.9,484.7 98.86,480.35 101.91,477.46"/>
<text class="lb" transform="translate(201 451.8) scale(0.9 1)" text-anchor="middle" style="font-size:17.2px;">H</text>
<line class="ld" x1="193" y1="451.8" x2="155.7" y2="485"/>
<polygon class="a" points="155.7,485 160.28,478.11 163.07,481.25"/>
<line class="t" x1="128" y1="433" x2="109.6" y2="487.5"/>
<line class="t" x1="169.7" y1="433" x2="151.9" y2="487.5"/>
<line class="t" x1="128" y1="438.3" x2="169.7" y2="438.3"/>
<polygon class="a" points="128,438.3 136.3,436.45 136.3,440.15"/>
<polygon class="a" points="169.7,438.3 161.4,440.15 161.4,436.45"/>
<text class="lt" transform="translate(147.5 433) scale(0.93 1)" text-anchor="middle" style="font-size:13.6px;">L30</text>
<text class="lb" transform="translate(43.1 551.3) scale(0.9 1)" text-anchor="middle" style="font-size:17.2px;">F</text>
<line class="ld" x1="50" y1="542.5" x2="85.5" y2="511"/>
<polygon class="a" points="85.5,511 80.91,517.88 78.12,514.74"/>
<text class="lb" transform="translate(47.5 568) scale(0.9 1)" text-anchor="middle" style="font-size:17.2px;">G</text>
<line class="ld" x1="56.2" y1="558.7" x2="106" y2="511"/>
<polygon class="a" points="106,511 101.68,518.05 98.77,515.02"/>
<line class="t" x1="65.5" y1="517" x2="65.5" y2="592.5"/>
<line class="t" x1="88.25" y1="517" x2="88.25" y2="568.7"/>
<line class="t" x1="109.25" y1="517" x2="109.25" y2="545"/>
<line class="t" x1="151.75" y1="517" x2="151.75" y2="545"/>
<line class="t" x1="173.25" y1="517" x2="173.25" y2="568.7"/>
<line class="t" x1="194.5" y1="517" x2="194.5" y2="592.5"/>
<line class="t" x1="109.25" y1="542" x2="151.75" y2="542"/>
<polygon class="a" points="109.25,542 117.55,540.15 117.55,543.85"/>
<polygon class="a" points="151.75,542 143.45,543.85 143.45,540.15"/>
<text class="lt" transform="translate(130.6 538.8) scale(0.93 1)" text-anchor="middle" style="font-size:13.6px;">L26</text>
<line class="t" x1="88.25" y1="565.5" x2="173.25" y2="565.5"/>
<polygon class="a" points="88.25,565.5 96.55,563.65 96.55,567.35"/>
<polygon class="a" points="173.25,565.5 164.95,567.35 164.95,563.65"/>
<text class="lt" transform="translate(130.6 562.5) scale(0.93 1)" text-anchor="middle" style="font-size:13.6px;">L27</text>
<line class="t" x1="65.5" y1="588.8" x2="194.5" y2="588.8"/>
<polygon class="a" points="65.5,588.8 73.8,586.95 73.8,590.65"/>
<polygon class="a" points="194.5,588.8 186.2,590.65 186.2,586.95"/>
<text class="lt" transform="translate(129.4 586.3) scale(0.93 1)" text-anchor="middle" style="font-size:13.6px;">LM3</text>
<line class="t" x1="198.4" y1="459.2" x2="250.6" y2="459.2"/>
<line class="t" x1="198.4" y1="514.8" x2="250.6" y2="514.8"/>
<line class="t" x1="246" y1="459.2" x2="246" y2="514.8"/>
<polygon class="a" points="246,459.2 247.85,467.5 244.15,467.5"/>
<polygon class="a" points="246,514.8 244.15,506.5 247.85,506.5"/>
<text class="lt" transform="translate(243.3 486.5) rotate(-90) scale(0.93 1)" text-anchor="middle" style="font-size:13.6px;">LM4</text>
<line class="t" x1="177" y1="465.5" x2="226.6" y2="465.5"/>
<line class="t" x1="177" y1="507.9" x2="226.6" y2="507.9"/>
<line class="t" x1="222.4" y1="465.5" x2="222.4" y2="507.9"/>
<polygon class="a" points="222.4,465.5 224.25,473.8 220.55,473.8"/>
<polygon class="a" points="222.4,507.9 220.55,499.6 224.25,499.6"/>
<text class="lt" transform="translate(219.2 487) rotate(-90) scale(0.93 1)" text-anchor="middle" style="font-size:13.6px;">L28</text>
<line class="t" x1="151.9" y1="465.6" x2="227.2" y2="531.9"/>
<line class="t" x1="151.9" y1="508.4" x2="227.2" y2="573.7"/>
<line class="t" x1="222.4" y1="520" x2="222.4" y2="580"/>
<polygon class="a" points="222.4,527.9 224.25,536.2 220.55,536.2"/>
<polygon class="a" points="222.4,569.5 220.55,561.2 224.25,561.2"/>
<text class="lt" transform="translate(218.2 541.8) rotate(-90) scale(0.93 1)" text-anchor="middle" style="font-size:13.6px;">L31</text>
<text class="lt" transform="translate(221.8 603.2) scale(0.93 1)" text-anchor="middle" style="font-size:13.6px;">TT</text>
<line class="t" x1="231" y1="596.7" x2="281" y2="584.2"/>
<polygon class="a" points="273.8,586.2 281.4,582.39 282.3,585.98"/>
<text class="lb" transform="translate(273.5 538.8) scale(0.9 1)" text-anchor="middle" style="font-size:17.2px;">C-C</text>
<text class="lt" transform="translate(322.5 549.4) scale(0.93 1)" text-anchor="middle" style="font-size:13px;font-style:italic;">A</text>
<text class="lt" transform="translate(330.5 550) scale(0.93 1)" text-anchor="middle" style="font-size:10px;font-style:italic;">1</text>
<path class="t" d="M287.5,557.5 A36,36 0 0 1 344.75,573.75"/>
<polygon class="a" points="287.5,557.5 293.88,551.88 295.66,555.12"/>
<polygon class="a" points="344.75,573.75 341.69,565.82 345.35,565.27"/>
<line class="t" x1="281.9" y1="554.4" x2="302.5" y2="575.6"/>
<path class="t" d="M263.8,593 Q268,590 267.5,586 Q266.5,580 267.5,573 Q270,570 280,568 Q290,565 297.5,561.9 L301.2,562.5 L317.5,573.75 Q321.5,580 321.2,586 L321.2,590 Q321,593 320,594"/>
<path class="d" d="M278.75,575.4 L303.1,575.4 L311.9,584.4 L311.9,589.4 L273.5,589.4 Q270,589 270.6,585.6 Z"/>
<path class="g" d="M283.25,575.4 A8,8 0 0 0 299.25,575.4"/>
<path class="g" d="M284.95,575.4 A6.3,6.3 0 0 0 297.55,575.4"/>
<path class="t" d="M263.8,593 Q265,590 270.25,590 M270.25,589.4 L270.25,600 M280.6,600 L280.6,594 Q280.6,590 278,589.4"/>
<path class="t" d="M301.2,600 L301.2,594 Q301.2,590 303.5,589.4 M311.9,589.4 L311.9,600"/>
<line class="t" x1="303.1" y1="575.4" x2="367" y2="575.4"/>
<line class="t" x1="374.5" y1="575.4" x2="398.7" y2="575.4"/>
<line class="g" x1="311.9" y1="584.1" x2="372.9" y2="584.1"/>
<line class="t" x1="311.9" y1="589.4" x2="372.9" y2="589.4"/>
<line class="t" x1="303.1" y1="594.3" x2="364.7" y2="594.3"/>
<line class="t" x1="373.5" y1="594.3" x2="397" y2="594.3"/>
<line class="t" x1="345.6" y1="577.6" x2="345.6" y2="625.8"/>
<polygon class="a" points="345.6,589 343.75,580.7 347.45,580.7"/>
<polygon class="a" points="345.6,594.6 347.45,602.9 343.75,602.9"/>
<text class="lt" transform="translate(342.9 614.6) rotate(-90) scale(0.93 1)" text-anchor="middle" style="font-size:13.6px;">L10</text>
<line class="t" x1="369.6" y1="564.7" x2="369.6" y2="621.7"/>
<polygon class="a" points="369.6,583.8 367.75,575.5 371.45,575.5"/>
<polygon class="a" points="369.6,589.8 371.45,598.1 367.75,598.1"/>
<text class="lt" transform="translate(367 610.5) rotate(-90) scale(0.93 1)" text-anchor="middle" style="font-size:13.6px;">L11</text>
<line class="t" x1="393.4" y1="560" x2="393.4" y2="625.2"/>
<polygon class="a" points="393.4,575.3 391.55,567 395.25,567"/>
<polygon class="a" points="393.4,594.6 395.25,602.9 391.55,602.9"/>
<text class="lt" transform="translate(390.5 614) rotate(-90) scale(0.93 1)" text-anchor="middle" style="font-size:13.6px;">L12</text>
<line class="t" x1="270.25" y1="594" x2="270.25" y2="644"/>
<line class="t" x1="311.9" y1="594" x2="311.9" y2="644"/>
<line class="t" x1="280.6" y1="600" x2="280.6" y2="621"/>
<line class="t" x1="301.2" y1="600" x2="301.2" y2="621"/>
<line class="t" x1="258.75" y1="618.75" x2="318.75" y2="618.75"/>
<polygon class="a" points="280.6,618.75 272.3,620.6 272.3,616.9"/>
<polygon class="a" points="301.2,618.75 309.5,616.9 309.5,620.6"/>
<text class="lt" transform="translate(266.2 616.3) scale(0.93 1)" text-anchor="middle" style="font-size:13.6px;">L8</text>
<line class="t" x1="270.25" y1="641.25" x2="311.9" y2="641.25"/>
<polygon class="a" points="270.25,641.25 278.55,639.4 278.55,643.1"/>
<polygon class="a" points="311.9,641.25 303.6,643.1 303.6,639.4"/>
<text class="lt" transform="translate(292.5 638.8) scale(0.93 1)" text-anchor="middle" style="font-size:13.6px;">L9</text>
<text class="lb" transform="translate(453.3 385.6) scale(0.9 1)" text-anchor="middle" style="font-size:17.2px;">A</text>
<path class="d" d="M450.5,456.4 L501.4,456.4 L501.4,459.2 L512.4,459.2 L512.4,456.4 L520.6,456.4 L520.6,459.2 L531.7,459.2 L531.7,456.4 L582.6,456.4 Q584.1,456.4 584.1,458 L584.1,515.7 Q584.1,517.3 582.6,517.3 L533.7,517.3 L533.7,515.3 L498.3,515.3 L498.3,517.3 L450.5,517.3 Q449,517.3 449,515.8 L449,458 Q449,456.4 450.5,456.4 Z"/>
<path class="g" d="M452.3,461 Q452.3,459.4 454,459.4 L501.4,459.4 M531.7,459.4 L579.4,459.4 Q581,459.4 581,461 L581,505 M452.3,505 L452.3,461"/>
<rect class="d" x="501.4" y="459.2" width="11" height="6.2"/>
<rect class="d" x="501.4" y="507.4" width="11" height="7.9"/>
<rect class="d" x="520.6" y="459.2" width="11.1" height="6.2"/>
<rect class="d" x="520.6" y="507.4" width="11.1" height="7.9"/>
<rect class="d" x="443.6" y="465.8" width="5.4" height="13.7"/>
<circle class="d" cx="457.3" cy="462.3" r="3.4"/>
<line class="x" x1="451.3" y1="462.3" x2="463.3" y2="462.3"/>
<line class="x" x1="457.3" y1="456.3" x2="457.3" y2="468.3"/>
<circle class="d" cx="457.3" cy="511.4" r="3.4"/>
<line class="x" x1="451.3" y1="511.4" x2="463.3" y2="511.4"/>
<line class="x" x1="457.3" y1="505.4" x2="457.3" y2="517.4"/>
<circle class="d" cx="575.8" cy="462.3" r="3.4"/>
<line class="x" x1="569.8" y1="462.3" x2="581.8" y2="462.3"/>
<line class="x" x1="575.8" y1="456.3" x2="575.8" y2="468.3"/>
<circle class="d" cx="575.8" cy="511.4" r="3.4"/>
<line class="x" x1="569.8" y1="511.4" x2="581.8" y2="511.4"/>
<line class="x" x1="575.8" y1="505.4" x2="575.8" y2="517.4"/>
<circle class="d" cx="470.9" cy="488.7" r="10.4"/>
<circle class="d" cx="470.9" cy="488.7" r="9.5"/>
<circle class="d" cx="470.9" cy="488.7" r="4"/>
<line class="x" x1="456.9" y1="488.7" x2="484.9" y2="488.7"/>
<line class="x" x1="470.9" y1="474" x2="470.9" y2="503"/>
<circle class="d" cx="562.2" cy="488.7" r="10.4"/>
<circle class="d" cx="562.2" cy="488.7" r="9.5"/>
<circle class="d" cx="562.2" cy="488.7" r="4"/>
<line class="x" x1="548.2" y1="488.7" x2="576.2" y2="488.7"/>
<line class="x" x1="562.2" y1="474" x2="562.2" y2="503"/>
<circle class="d" cx="491.3" cy="487.1" r="3.5"/>
<line class="x" x1="484.3" y1="487.1" x2="498.3" y2="487.1"/>
<line class="x" x1="491.3" y1="480.1" x2="491.3" y2="494.1"/>
<circle class="d" cx="541.8" cy="487.1" r="3.5"/>
<line class="x" x1="534.8" y1="487.1" x2="548.8" y2="487.1"/>
<line class="x" x1="541.8" y1="480.1" x2="541.8" y2="494.1"/>
<circle class="d" cx="498" cy="471.4" r="3.5"/>
<circle class="d" cx="535.3" cy="500.6" r="3.5"/>
<circle class="g" cx="515.7" cy="484.4" r="17.4"/>
<circle class="d" cx="515.7" cy="484.4" r="15.5"/>
<rect class="g" x="509" y="498.6" width="5.6" height="5.4"/>
<rect class="g" x="518.6" y="498.6" width="5.6" height="5.4"/>
<circle class="d" cx="511.8" cy="501.4" r="1.5"/>
<circle class="d" cx="521.4" cy="501.4" r="1.5"/>
<path class="d" d="M468.9,508.1 L478.9,508.1 L483.4,512 L483.4,515.3 L464.4,515.3 L464.4,512 Z"/>
<line class="d" x1="467.1" y1="515.3" x2="467.1" y2="517.3"/>
<line class="d" x1="480.7" y1="515.3" x2="480.7" y2="517.3"/>
<path class="g" d="M470.8,508.1 A3.1,3.1 0 0 0 477,508.1"/>
<line class="x" x1="473.9" y1="505" x2="473.9" y2="520"/>
<path class="d" d="M554.2,508.1 L564.2,508.1 L568.7,512 L568.7,515.3 L549.7,515.3 L549.7,512 Z"/>
<line class="d" x1="552.4" y1="515.3" x2="552.4" y2="517.3"/>
<line class="d" x1="566" y1="515.3" x2="566" y2="517.3"/>
<path class="g" d="M556.1,508.1 A3.1,3.1 0 0 0 562.3,508.1"/>
<line class="x" x1="559.2" y1="505" x2="559.2" y2="520"/>
<circle class="t" cx="474.7" cy="513" r="13.7"/>
<line class="t" x1="412" y1="462.2" x2="452.5" y2="462.2"/>
<line class="h" x1="452.5" y1="462.2" x2="484.4" y2="462.2"/>
<line class="h" x1="549.7" y1="462.2" x2="620" y2="462.2"/>
<line class="h" x1="484.4" y1="462.2" x2="484.4" y2="482"/>
<line class="h" x1="549.7" y1="462.2" x2="549.7" y2="482"/>
<line class="h" x1="440" y1="487.5" x2="594" y2="487.5"/>
<line class="t" x1="449.1" y1="404" x2="449.1" y2="456.5"/>
<line class="t" x1="584.1" y1="404" x2="584.1" y2="456.5"/>
<line class="t" x1="491.3" y1="428" x2="491.3" y2="484"/>
<line class="t" x1="541.8" y1="428" x2="541.8" y2="484"/>
<line class="t" x1="474" y1="516" x2="474" y2="545"/>
<line class="t" x1="558" y1="516" x2="558" y2="545"/>
<line class="t" x1="457.3" y1="516" x2="457.3" y2="568"/>
<line class="t" x1="575.8" y1="516" x2="575.8" y2="568"/>
<line class="t" x1="449.1" y1="408.3" x2="584.1" y2="408.3"/>
<polygon class="a" points="449.1,408.3 457.4,406.45 457.4,410.15"/>
<polygon class="a" points="584.1,408.3 575.8,410.15 575.8,406.45"/>
<text class="lt" transform="translate(516.6 406) scale(0.93 1)" text-anchor="middle" style="font-size:13.6px;">E1</text>
<line class="t" x1="491.3" y1="432.2" x2="541.8" y2="432.2"/>
<polygon class="a" points="491.3,432.2 499.6,430.35 499.6,434.05"/>
<polygon class="a" points="541.8,432.2 533.5,434.05 533.5,430.35"/>
<text class="lt" transform="translate(517.5 429.6) scale(0.93 1)" text-anchor="middle" style="font-size:13.6px;">L1</text>
<line class="t" x1="474" y1="541.4" x2="558" y2="541.4"/>
<polygon class="a" points="474,541.4 482.3,539.55 482.3,543.25"/>
<polygon class="a" points="558,541.4 549.7,543.25 549.7,539.55"/>
<text class="lt" transform="translate(518 539.3) scale(0.93 1)" text-anchor="middle" style="font-size:13.6px;">L7</text>
<line class="t" x1="457.3" y1="564.9" x2="575.8" y2="564.9"/>
<polygon class="a" points="457.3,564.9 465.6,563.05 465.6,566.75"/>
<polygon class="a" points="575.8,564.9 567.5,566.75 567.5,563.05"/>
<text class="lt" transform="translate(517 562.8) scale(0.93 1)" text-anchor="middle" style="font-size:13.6px;">L5</text>
<line class="t" x1="411.7" y1="461.9" x2="457" y2="461.9"/>
<line class="t" x1="393" y1="511" x2="457" y2="511"/>
<line class="t" x1="419.5" y1="461.9" x2="419.5" y2="511"/>
<polygon class="a" points="419.5,461.9 421.35,470.2 417.65,470.2"/>
<polygon class="a" points="419.5,511 417.65,502.7 421.35,502.7"/>
<text class="lt" transform="translate(417.6 486) rotate(-90) scale(0.93 1)" text-anchor="middle" style="font-size:13.6px;">L6</text>
<line class="t" x1="369.6" y1="487.3" x2="404.5" y2="487.3"/>
<line class="t" x1="421.5" y1="487.3" x2="465" y2="487.3"/>
<line class="t" x1="369.6" y1="517.2" x2="449" y2="517.2"/>
<line class="t" x1="372.5" y1="487.3" x2="372.5" y2="517.2"/>
<polygon class="a" points="372.5,487.3 374.35,495.6 370.65,495.6"/>
<polygon class="a" points="372.5,517.2 370.65,508.9 374.35,508.9"/>
<text class="lt" transform="translate(368.6 501) rotate(-90) scale(0.93 1)" text-anchor="middle" style="font-size:13.6px;">L2</text>
<line class="t" x1="396" y1="496" x2="396" y2="543"/>
<polygon class="a" points="396,511.2 394.15,502.9 397.85,502.9"/>
<polygon class="a" points="396,517.4 397.85,525.7 394.15,525.7"/>
<text class="lt" transform="translate(393 536.5) rotate(-90) scale(0.93 1)" text-anchor="middle" style="font-size:13.6px;">L3</text>
<text class="lb" transform="translate(420.5 403.2) scale(0.9 1)" text-anchor="middle" style="font-size:17.2px;">1</text>
<text class="lt" transform="translate(429.3 389.5) scale(0.93 1)" text-anchor="middle" style="font-size:13.5px;">1)</text>
<line class="ld" x1="426.4" y1="402.2" x2="453.8" y2="459"/>
<polygon class="a" points="453.8,459 448.43,452.71 452.22,450.88"/>
<text class="lb" transform="translate(420.5 428.8) scale(0.9 1)" text-anchor="middle" style="font-size:17.2px;">A</text>
<line class="ld" x1="430.3" y1="427" x2="430.3" y2="446"/>
<polygon class="a" points="430.3,462 426.7,444.4 433.9,444.4"/>
<text class="lb" transform="translate(397 455) scale(0.9 1)" text-anchor="middle" style="font-size:17.2px;">E</text>
<text class="lt" transform="translate(409.2 442.6) scale(0.93 1)" text-anchor="middle" style="font-size:13.5px;">2)</text>
<line class="ld" x1="413.6" y1="449.2" x2="451.8" y2="459.5"/>
<polygon class="a" points="451.8,459.5 443.53,459.44 444.62,455.39"/>
<line class="ld" x1="413.6" y1="449.2" x2="450.5" y2="508.9"/>
<polygon class="a" points="450.5,508.9 444.51,503.2 448.08,500.99"/>
<text class="lb" transform="translate(430.3 508.9) scale(0.9 1)" text-anchor="middle" style="font-size:17.2px;">B</text>
<line class="ld" x1="436" y1="501" x2="487.5" y2="488.5"/>
<polygon class="a" points="487.5,488.5 480.22,492.43 479.23,488.35"/>
<text class="lb" transform="translate(420.5 555) scale(0.9 1)" text-anchor="middle" style="font-size:17.2px;">4</text>
<line class="ld" x1="427.3" y1="546.4" x2="453.8" y2="514.3"/>
<polygon class="a" points="453.8,514.3 450.33,521.81 447.09,519.13"/>
<text class="lb" transform="translate(434.6 565.6) scale(0.9 1)" text-anchor="middle" style="font-size:17.2px;">C</text>
<line class="ld" x1="441" y1="558" x2="467.5" y2="525.8"/>
<polygon class="a" points="467.5,525.8 464.04,533.31 460.79,530.64"/>
<text class="lb" transform="translate(605.5 421.8) scale(0.9 1)" text-anchor="middle" style="font-size:17.2px;">2</text>
<line class="ld" x1="604" y1="424.4" x2="579.7" y2="458.3"/>
<polygon class="a" points="579.7,458.3 582.65,450.57 586.07,453.02"/>
<text class="lb" transform="translate(621.8 429.6) scale(0.9 1)" text-anchor="middle" style="font-size:17.2px;">A</text>
<line class="ld" x1="611.8" y1="427" x2="611.8" y2="446"/>
<polygon class="a" points="611.8,461.5 608.2,443.9 615.4,443.9"/>
<text class="lb" transform="translate(599 494.9) scale(0.9 1)" text-anchor="middle" style="font-size:17.2px;">E</text>
<text class="lt" transform="translate(612.3 482.6) scale(0.93 1)" text-anchor="middle" style="font-size:13.5px;">2)</text>
<line class="ld" x1="591" y1="487" x2="579.7" y2="467.3"/>
<polygon class="a" points="579.7,467.3 585.5,473.19 581.86,475.28"/>
<line class="ld" x1="591" y1="487" x2="579.7" y2="508.2"/>
<polygon class="a" points="579.7,508.2 581.61,500.15 585.32,502.13"/>
<text class="lb" transform="translate(595.3 543.2) scale(0.9 1)" text-anchor="middle" style="font-size:17.2px;">B</text>
<line class="ld" x1="590.1" y1="531.4" x2="545.5" y2="490.8"/>
<polygon class="a" points="545.5,490.8 552.83,494.63 550,497.74"/>
<text class="lb" transform="translate(629 553.6) scale(0.9 1)" text-anchor="middle" style="font-size:17.2px;">3</text>
<line class="ld" x1="622.8" y1="544.5" x2="582.5" y2="517.5"/>
<path class="dh" d="M563.75,731.25 L752.5,731.25 L752.5,627.5 Q747,621 740,620 Q728,617 720,618 Q712,618.5 705,621.25 Q697,625 690,630 L672.5,648.75 Q665,653 657.5,655 Q640,657.5 622.5,658.75 Q610,661 601.25,666.25 Q593,670 587.5,676.25 Q581,684 578.75,690 Q576,697 575,705 Q573,712 571.25,717.5 Q568,725 563.75,731.25 Z"/>
<path class="dw" d="M581.25,731.25 L581.25,704.5 L594,697.5 L606.75,704.5 L606.75,731.25 Z"/>
<path class="dw" d="M708,731.25 L708,651.25 L720.75,644.25 L733.75,651.25 L733.75,731.25 Z"/>
<line class="t" x1="705.5" y1="667.5" x2="705.5" y2="760"/>
<line class="t" x1="736.25" y1="667.5" x2="736.25" y2="760"/>
<line class="h" x1="594" y1="692" x2="594" y2="740"/>
<line class="h" x1="720.75" y1="640" x2="720.75" y2="740"/>
<line class="d" x1="563.75" y1="731.25" x2="752.5" y2="731.25"/>
<path class="t" d="M631.25,733 L631.25,762.9 L695,751.6 Q700,756 702.5,761"/>
<line class="t" x1="535" y1="704.5" x2="582" y2="704.5"/>
<line class="t" x1="535" y1="731.25" x2="563" y2="731.25"/>
<line class="t" x1="539.3" y1="704.5" x2="539.3" y2="731.25"/>
<polygon class="a" points="539.3,704.5 541.15,712.8 537.45,712.8"/>
<polygon class="a" points="539.3,731.25 537.45,722.95 541.15,722.95"/>
<text class="lt" transform="translate(534.3 716.8) rotate(-90) scale(0.93 1)" text-anchor="middle" style="font-size:14.8px;">LA</text>
<line class="t" x1="705.5" y1="667.5" x2="781" y2="667.5"/>
<line class="t" x1="752.5" y1="731.25" x2="781" y2="731.25"/>
<line class="t" x1="776.75" y1="667.5" x2="776.75" y2="731.25"/>
<polygon class="a" points="776.75,667.5 778.6,675.8 774.9,675.8"/>
<polygon class="a" points="776.75,731.25 774.9,722.95 778.6,722.95"/>
<text class="lt" transform="translate(774.1 696.3) rotate(-90) scale(0.93 1)" text-anchor="middle" style="font-size:14.8px;">LB</text>
<line class="t" x1="581.25" y1="731.25" x2="581.25" y2="758"/>
<line class="t" x1="606.75" y1="731.25" x2="606.75" y2="758"/>
<line class="t" x1="581.25" y1="755.4" x2="606.75" y2="755.4"/>
<polygon class="a" points="581.25,755.4 589.55,753.55 589.55,757.25"/>
<polygon class="a" points="606.75,755.4 598.45,757.25 598.45,753.55"/>
<text class="lt" transform="translate(594.2 752.75) scale(0.93 1)" text-anchor="middle" style="font-size:13.6px;">d</text>
<line class="t" x1="705.5" y1="755.4" x2="736.25" y2="755.4"/>
<polygon class="a" points="705.5,755.4 713.8,753.55 713.8,757.25"/>
<polygon class="a" points="736.25,755.4 727.95,757.25 727.95,753.55"/>
<text class="lt" transform="translate(721.2 751.4) scale(0.93 1)" text-anchor="middle" style="font-size:13.6px;">RT</text>
</svg></body></html>
